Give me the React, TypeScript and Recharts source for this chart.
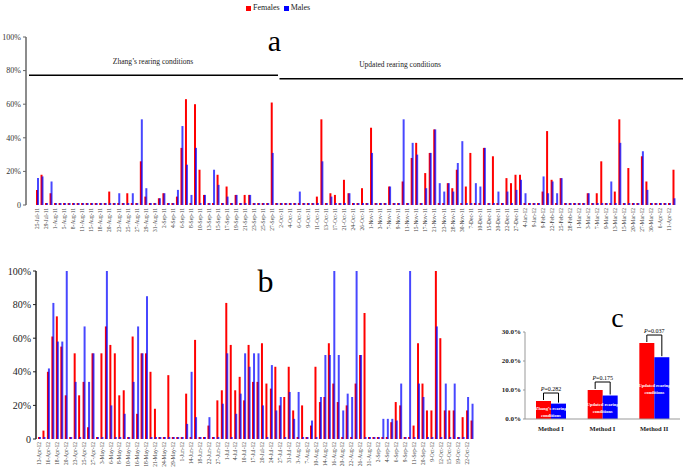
import React from 'react';
import { BarChart, Bar, XAxis, YAxis, Legend } from 'recharts';

const FONT = '"Liberation Serif", "Times New Roman", serif';
const RED = '#ff0000';
const BLUE = '#0000ff';

// panel a: Jul 2011 - Apr 2012 (one label for every second sampling day)
const datesA = [
  '25-Jul-11', '29-Jul-11', '1-Aug-11', '5-Aug-11', '8-Aug-11', '11-Aug-11', '15-Aug-11', '18-Aug-11', '20-Aug-11', '23-Aug-11',
  '25-Aug-11', '27-Aug-11', '29-Aug-11', '31-Aug-11', '2-Sep-11', '4-Sep-11', '6-Sep-11', '8-Sep-11', '10-Sep-11', '13-Sep-11',
  '15-Sep-11', '17-Sep-11', '19-Sep-11', '21-Sep-11', '23-Sep-11', '25-Sep-11', '27-Sep-11', '2-Oct-11', '4-Oct-11', '6-Oct-11',
  '9-Oct-11', '11-Oct-11', '13-Oct-11', '17-Oct-11', '21-Oct-11', '24-Oct-11', '26-Oct-11', '1-Nov-11', '3-Nov-11', '7-Nov-11',
  '9-Nov-11', '11-Nov-11', '15-Nov-11', '17-Nov-11', '21-Nov-11', '23-Nov-11', '28-Nov-11', '30-Nov-11', '7-Dec-11', '10-Dec-11',
  '15-Dec-11', '20-Dec-11', '22-Dec-11', '27-Dec-11', '4-Jan-12', '9-Jan-12', '9-Feb-12', '22-Feb-12', '25-Feb-12', '28-Feb-12',
  '1-Mar-12', '3-Mar-12', '7-Mar-12', '9-Mar-12', '13-Mar-12', '15-Mar-12', '20-Mar-12', '27-Mar-12', '30-Mar-12', '6-Apr-12',
  '11-Apr-12',
];
const femalesA = [
  9, 18, 0, 7, 0, 0, 0, 0, 0, 0,
  0, 0, 0, 0, 0, 0, 8, 0, 0, 0,
  7, 0, 0, 26, 5, 0, 0, 4, 7, 0,
  0, 5, 34, 63, 0, 60, 21, 6, 0, 0,
  18, 0, 11, 0, 6, 0, 6, 6, 0, 0,
  0, 0, 61, 0, 0, 0, 0, 0, 0, 0,
  0, 0, 5, 51, 0, 7, 6, 0, 15, 7,
  0, 0, 10, 0, 46, 0, 0, 0, 11, 0,
  0, 14, 0, 28, 37, 0, 19, 31, 45, 0,
  0, 13, 10, 21, 0, 11, 31, 0, 0, 34,
  0, 29, 0, 0, 16, 13, 18, 18, 0, 0,
  0, 0, 8, 44, 15, 0, 16, 0, 0, 0,
  0, 0, 7, 0, 7, 26, 0, 0, 8, 51,
  0, 22, 0, 0, 29, 14, 0, 0, 0, 0,
  0, 21,
];
const malesA = [
  16, 17, 0, 14, 0, 0, 0, 0, 0, 0,
  0, 0, 0, 0, 0, 0, 0, 0, 7, 0,
  0, 7, 0, 51, 10, 0, 0, 4, 7, 0,
  0, 9, 47, 24, 6, 34, 0, 6, 0, 21,
  12, 0, 5, 0, 6, 0, 0, 6, 0, 0,
  0, 0, 31, 0, 0, 0, 0, 0, 8, 0,
  0, 0, 0, 26, 0, 5, 0, 0, 0, 7,
  0, 0, 0, 0, 31, 0, 0, 0, 11, 0,
  0, 51, 0, 37, 30, 0, 10, 31, 45, 13,
  8, 13, 8, 25, 38, 0, 0, 13, 11, 34,
  0, 0, 8, 0, 8, 0, 9, 15, 7, 0,
  0, 0, 17, 7, 14, 7, 16, 0, 0, 0,
  0, 0, 7, 0, 0, 0, 0, 14, 0, 37,
  0, 0, 0, 0, 32, 9, 0, 0, 0, 0,
  0, 4,
];

// panel b: Apr - Oct 2012
const datesB = [
  '13-Apr-12', '16-Apr-12', '18-Apr-12', '20-Apr-12', '23-Apr-12', '25-Apr-12', '27-Apr-12', '3-May-12', '6-May-12', '8-May-12',
  '10-May-12', '16-May-12', '18-May-12', '21-May-12', '24-May-12', '29-May-12', '1-Jun-12', '14-Jun-12', '18-Jun-12', '22-Jun-12',
  '27-Jun-12', '1-Jul-12', '4-Jul-12', '10-Jul-12', '17-Jul-12', '20-Jul-12', '24-Jul-12', '27-Jul-12', '31-Jul-12', '3-Aug-12',
  '7-Aug-12', '10-Aug-12', '14-Aug-12', '16-Aug-12', '20-Aug-12', '22-Aug-12', '26-Aug-12', '31-Aug-12', '2-Sep-12', '4-Sep-12',
  '6-Sep-12', '9-Sep-12', '11-Sep-12', '20-Sep-12', '9-Oct-12', '12-Oct-12', '15-Oct-12', '19-Oct-12', '22-Oct-12',
];
const femalesB = [
  0, 5, 40, 61, 73, 55, 26, 0, 51, 26,
  34, 7, 51, 0, 51, 67, 56, 51, 26, 29,
  0, 61, 15, 51, 51, 40, 18, 0, 0, 38,
  0, 0, 0, 27, 0, 59, 0, 0, 8, 0,
  23, 29, 81, 56, 29, 37, 23, 56, 34, 34,
  57, 33, 30, 43, 20, 25, 43, 17, 0, 20,
  0, 8, 43, 22, 25, 57, 33, 22, 0, 20,
  0, 33, 50, 75, 0, 0, 0, 0, 0, 10,
  22, 20, 0, 0, 8, 57, 33, 17, 17, 100,
  60, 17, 17, 17, 0, 13, 17, 11,
];
const malesB = [
  0, 0, 42, 81, 58, 58, 100, 0, 34, 0,
  67, 34, 51, 0, 0, 100, 20, 0, 0, 15,
  0, 34, 67, 51, 85, 0, 0, 0, 0, 0,
  0, 0, 0, 9, 40, 13, 0, 0, 13, 0,
  0, 21, 51, 0, 15, 27, 51, 43, 51, 51,
  20, 0, 44, 17, 25, 0, 28, 12, 28, 0,
  0, 11, 0, 25, 50, 50, 100, 50, 17, 27,
  25, 100, 50, 0, 0, 0, 0, 12, 12, 12,
  11, 33, 0, 100, 0, 33, 25, 0, 0, 67,
  0, 33, 0, 33, 0, 0, 25, 21,
];

// panel c: mean rate by method
const methodsC = ['Method I', 'Method I', 'Method II'];
const conditionsC = ['Zhang\u2019s rearing conditions', 'Updated rearing conditions', 'Updated rearing conditions'];
const femalesC = [6.2, 10.0, 26.2];
const malesC = [5.3, 8.1, 21.3];
const pValuesC = ['0.282', '0.175', '0.037'];

const toRows = (f: number[], m: number[], dates: string[]) =>
  f.map((v, i) => ({
    key: `d${i}`,
    label: i % 2 === 0 ? dates[i / 2] || '' : '',
    females: v,
    males: m[i],
  }));

const rowsA = toRows(femalesA, malesA, datesA);
const rowsB = toRows(femalesB, malesB, datesB);
const rowsC = methodsC.map((name, i) => ({
  key: `c${i}`,
  name,
  cond: conditionsC[i],
  p: pValuesC[i],
  females: femalesC[i],
  males: malesC[i],
}));

const pct = (v: number) => (v === 0 ? '0' : `${v}%`);

// rotated date labels, reading bottom to top
const dateTick = (rows: { key: string; label: string }[]) => (props: any) => {
  const { x, y, payload } = props;
  const row = rows.find((r) => r.key === payload.value);
  if (!row || !row.label) return <g />;
  return (
    <text
      x={x}
      y={y}
      transform={`rotate(-90 ${x} ${y})`}
      textAnchor="end"
      dy={2}
      fontSize={5.5}
      fill="#444"
      fontFamily={FONT}
    >
      {row.label}
    </text>
  );
};

const methodTick = (props: any) => {
  const { x, y, payload } = props;
  const row = rowsC.find((r) => r.key === payload.value);
  return (
    <text x={x} y={y} dy={6} textAnchor="middle" fontSize={6.5} fontWeight="bold" fill="#222" fontFamily={FONT}>
      {row ? row.name : ''}
    </text>
  );
};

// male bar of panel c also carries the bracket, the P value and the condition text
const MaleWithNotes = (props: any) => {
  const { x, y, width, height, fill, payload } = props;
  const base = y + height;
  const perUnit = payload.males ? height / payload.males : 0;
  const femaleTop = base - payload.females * perUnit;
  const left = x - width / 2;
  const right = x + width / 2;
  const bracketY = Math.min(femaleTop, y) - 8;
  const cut = payload.cond.lastIndexOf(' ');
  const mid = (y + base) / 2;
  return (
    <g>
      <rect x={x} y={y} width={width} height={height} fill={fill} />
      <polyline
        points={`${left},${femaleTop - 1} ${left},${bracketY} ${right},${bracketY} ${right},${y - 1}`}
        fill="none"
        stroke="#000"
        strokeWidth={1}
      />
      <text x={x} y={bracketY - 2} textAnchor="middle" fontSize={6} fontFamily={FONT} fill="#000">
        <tspan fontStyle="italic">P</tspan>={payload.p}
      </text>
      <text x={x} y={mid - 1} textAnchor="middle" fontSize={4.5} fontWeight="bold" fontFamily={FONT} fill="#fff">
        {payload.cond.slice(0, cut)}
      </text>
      <text x={x} y={mid + 5.5} textAnchor="middle" fontSize={4.5} fontWeight="bold" fontFamily={FONT} fill="#fff">
        {payload.cond.slice(cut + 1)}
      </text>
    </g>
  );
};

const renderLegend = (props: any) => (
  <div style={{ display: 'flex', fontFamily: FONT, fontSize: 8, color: '#222', lineHeight: '10px' }}>
    {(props.payload || []).map((p: any) => (
      <span key={p.value} style={{ display: 'flex', alignItems: 'center', marginRight: 4 }}>
        <span style={{ width: 5, height: 5, background: p.color, marginRight: 2 }} />
        {p.value}
      </span>
    ))}
  </div>
);

export default function App() {
  return (
    <div style={{ position: 'absolute', left: 0, top: 0, width: 683, height: 473, background: '#fff' }}>
      <div style={{ position: 'absolute', left: 0, top: 0 }}>
        <BarChart
          width={683}
          height={240}
          data={rowsA}
          margin={{ top: 37, right: 2, left: 0, bottom: 0 }}
          barSize={2}
          barGap={-1}
        >
          <XAxis
            dataKey="key"
            interval={0}
            tick={dateTick(rowsA)}
            tickLine={false}
            axisLine={false}
            tickSize={2}
            tickMargin={1}
            height={35}
            padding={{ left: 9, right: 5 }}
          />
          <YAxis
            domain={[0, 100]}
            ticks={[0, 20, 40, 60, 80, 100]}
            tickFormatter={pct}
            width={26}
            axisLine={{ stroke: '#666', strokeWidth: 1.5 }}
            tickLine={{ stroke: '#666' }}
            tickSize={3}
            tick={{ fontSize: 8, fill: '#333', fontFamily: FONT }}
          />
          <Legend
            layout="horizontal"
            verticalAlign="middle"
            align="center"
            content={renderLegend}
            wrapperStyle={{ position: 'absolute', top: 3, left: 246, width: 'auto' }}
          />
          <Bar dataKey="females" name="Females" fill={RED} minPointSize={2} isAnimationActive={false} />
          <Bar dataKey="males" name="Males" fill={BLUE} fillOpacity={0.72} minPointSize={2} isAnimationActive={false} />
        </BarChart>
      </div>

      <div style={{ position: 'absolute', left: 0, top: 240 }}>
        <BarChart
          width={478}
          height={233}
          data={rowsB}
          margin={{ top: 31, right: 4, left: 0, bottom: 0 }}
          barSize={2}
          barGap={-1}
        >
          <XAxis
            dataKey="key"
            interval={0}
            tick={dateTick(rowsB)}
            tickLine={false}
            axisLine={false}
            tickSize={2}
            tickMargin={1}
            height={34}
            padding={{ left: 1, right: 0 }}
          />
          <YAxis
            domain={[0, 100]}
            ticks={[0, 20, 40, 60, 80, 100]}
            tickFormatter={pct}
            width={36}
            axisLine={{ stroke: '#222', strokeWidth: 1.5 }}
            tickLine={{ stroke: '#222' }}
            tickSize={3}
            tick={{ fontSize: 10, fill: '#222', fontFamily: FONT }}
          />
          <Bar dataKey="females" name="Females" fill={RED} minPointSize={2} isAnimationActive={false} />
          <Bar dataKey="males" name="Males" fill={BLUE} fillOpacity={0.72} minPointSize={2} isAnimationActive={false} />
        </BarChart>
      </div>

      <div style={{ position: 'absolute', left: 490, top: 300 }}>
        <BarChart
          width={193}
          height={140}
          data={rowsC}
          margin={{ top: 32, right: 3, left: 0, bottom: 0 }}
          barSize={15}
          barGap={0}
        >
          <XAxis
            dataKey="key"
            tick={methodTick}
            tickLine={false}
            axisLine={{ stroke: '#999' }}
            tickSize={0}
            tickMargin={6}
            height={21}
          />
          <YAxis
            domain={[0, 30]}
            ticks={[0, 10, 20, 30]}
            tickFormatter={(v: number) => `${v.toFixed(1)}%`}
            width={35}
            axisLine={{ stroke: '#999' }}
            tickLine={{ stroke: '#999' }}
            tickSize={2}
            tick={{ fontSize: 7, fill: '#222', fontFamily: FONT, fontWeight: 'bold' }}
          />
          <Bar dataKey="females" name="Females" fill={RED} isAnimationActive={false} />
          <Bar dataKey="males" name="Males" fill={BLUE} shape={MaleWithNotes} isAnimationActive={false} />
        </BarChart>
      </div>

      <svg
        width={683}
        height={473}
        style={{ position: 'absolute', left: 0, top: 0, pointerEvents: 'none' }}
        fontFamily={FONT}
      >
        <text x={274.5} y={50.5} textAnchor="middle" fontSize={30} fill="#000">a</text>
        <text x={153} y={64} textAnchor="middle" fontSize={7.5} fill="#222">Zhang’s rearing conditions</text>
        <line x1={29} y1={75.3} x2={278} y2={75.3} stroke="#000" strokeWidth={1.5} />
        <text x={400} y={66.5} textAnchor="middle" fontSize={7.5} fill="#222">Updated rearing conditions</text>
        <line x1={279.5} y1={78.7} x2={683} y2={78.7} stroke="#000" strokeWidth={1.5} />
        <text x={265.5} y={291.5} textAnchor="middle" fontSize={32} fill="#000">b</text>
        <text x={617.5} y={327} textAnchor="middle" fontSize={28} fill="#000">c</text>
      </svg>
    </div>
  );
}
